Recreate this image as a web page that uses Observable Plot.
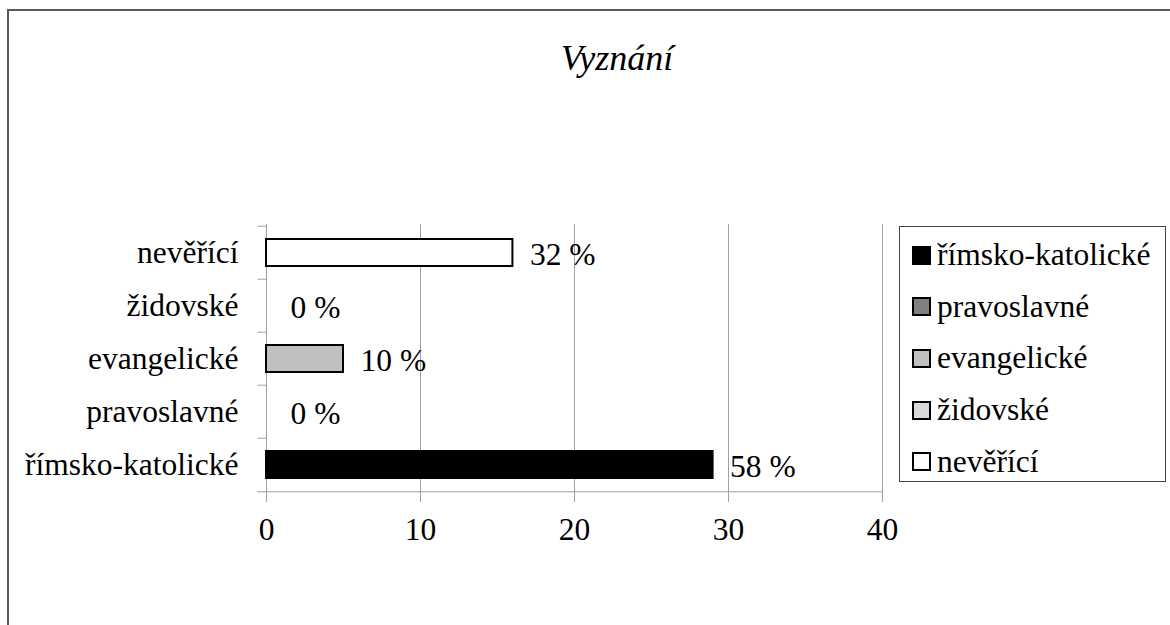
<!DOCTYPE html>
<html><head><meta charset="utf-8">
<script src="https://cdn.jsdelivr.net/npm/d3@7"></script>
<script src="https://cdn.jsdelivr.net/npm/@observablehq/plot@0.6"></script>
<style>
body{margin:0;background:#fff;}
#wrap{position:relative;width:1170px;height:625px;overflow:hidden;color:#000;}
#frame{position:absolute;left:7px;top:9px;width:1250px;height:700px;border:2px solid #595959;box-sizing:border-box;}
#title{position:absolute;left:0;width:1234px;top:40px;line-height:36px;text-align:center;font-style:italic;font-size:36px;}
#chart{position:absolute;left:0;top:0;}
#legend{position:absolute;left:899px;top:226px;width:267px;height:256px;border:1.5px solid #444;box-sizing:border-box;background:#fff;}
.item{position:absolute;left:12px;height:36px;display:flex;align-items:center;font-size:31.5px;white-space:nowrap;}
.sw{width:15px;height:15px;border:2px solid #000;margin-right:6px;flex:none;}
</style>
</head><body>
<div id="wrap">
  <div id="frame"></div>
  <div id="chart"></div>
  <div id="title" style="font-family:'Liberation Serif'"></div>
  <div id="legend" style="font-family:'Liberation Serif'"></div>
</div>
<script>
const title = "Vyznání";
const categories = ["římsko-katolické", "pravoslavné", "evangelické", "židovské", "nevěřící"];
const values = [29, 0, 5, 0, 16];
const percents = [58, 0, 10, 0, 32];
const colors = ["#000000", "#808080", "#c0c0c0", "#d9d9d9", "#ffffff"];
const xTicks = [0, 10, 20, 30, 40];

const data = categories.map((c, i) => ({category: c, value: values[i], pct: percents[i]}));
const yOrder = categories.slice().reverse();
const grid = "#a0a0a0";
const plotH = 268;
const step = plotH / categories.length;
const FONT = "Liberation Serif";
const FS = 31.5;

document.getElementById("title").textContent = title;

const chart = Plot.plot({
  width: 1170, height: 625,
  marginLeft: 266, marginRight: 288, marginTop: 224, marginBottom: 133,
  style: {fontFamily: FONT, fontSize: FS + "px", color: "#000", background: "transparent", overflow: "visible"},
  x: {domain: [0, 40]},
  y: {domain: yOrder, paddingInner: 0.5, paddingOuter: 0.25},
  color: {domain: categories, range: colors},
  marks: [
    Plot.ruleX(xTicks.slice(1), {stroke: grid, strokeWidth: 1}),
    Plot.ruleX([0], {stroke: grid, strokeWidth: 1}),
    Plot.ruleY(yOrder, {y: d => d, x1: 0, x2: -0.55, dy: -step / 2, stroke: grid}),
    Plot.ruleY([yOrder[yOrder.length - 1]], {y: d => d, x1: -0.58, x2: 40, dy: step / 2, stroke: grid}),
    Plot.axisX({ticks: xTicks, tickSize: 10, tickPadding: 15, stroke: grid, fill: "#000", fontSize: FS, fontFamily: FONT, label: null}),
    Plot.axisY({tickSize: 0, tickPadding: 28, fill: "#000", fontSize: FS, fontFamily: FONT, label: null}),
    Plot.barX(data.filter(d => d.value > 0), {x: "value", y: "category", fill: "category", stroke: "#000", strokeWidth: 2}),
    Plot.text(data.filter(d => d.value > 0), {x: "value", y: "category", text: d => `${d.pct} %`, textAnchor: "start", dx: 17, dy: 2, fontSize: FS, fontFamily: FONT, fill: "#000"}),
    Plot.text(data.filter(d => d.value === 0), {x: "value", y: "category", text: d => `${d.pct} %`, textAnchor: "start", dx: 24, dy: 2, fontSize: FS, fontFamily: FONT, fill: "#000"})
  ]
});
document.getElementById("chart").appendChild(chart);

const legend = document.getElementById("legend");
const itemTop0 = 28, itemStep = 51.7;
categories.forEach((c, i) => {
  const it = document.createElement("div");
  it.className = "item";
  it.style.top = (itemTop0 + i * itemStep - 18) + "px";
  const sw = document.createElement("span");
  sw.className = "sw";
  sw.style.background = colors[i];
  const tx = document.createElement("span");
  tx.textContent = c;
  it.appendChild(sw);
  it.appendChild(tx);
  legend.appendChild(it);
});
</script>
</body></html>
